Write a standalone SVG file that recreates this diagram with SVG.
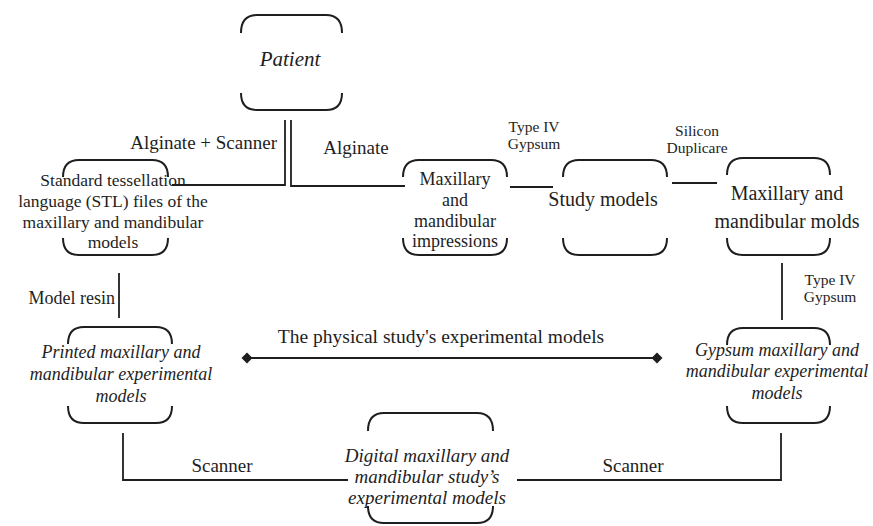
<svg xmlns="http://www.w3.org/2000/svg" width="873" height="526" viewBox="0 0 873 526">
<defs>
<style>
.br{fill:none;stroke:#1e1e1e;stroke-width:2}
.ln{fill:none;stroke:#1e1e1e;stroke-width:1.8}
text{font-family:"Liberation Serif","Times New Roman",serif;fill:#1e1e1e;text-anchor:middle}
.it{font-style:italic}
.lbl{font-size:19px}
.sm{font-size:15.5px}
.nd{font-size:18px}
.big{font-size:20px}
</style>
<marker id="dia" markerWidth="12" markerHeight="12" refX="6" refY="6" orient="auto" markerUnits="userSpaceOnUse"><path d="M0.5,6 L6,0.5 L11.5,6 L6,11.5 Z" fill="#1e1e1e"/></marker>
</defs>
<rect width="873" height="526" fill="#fff"/>

<g id="connectors">
<path class="ln" d="M285,120 V185 H172"/>
<path class="ln" d="M291,120 V186 H405"/>
<path class="ln" d="M510,187 H553"/>
<path class="ln" d="M672,183 H717"/>
<path class="ln" d="M782,263 V320"/>
<path class="ln" d="M119,273 V318"/>
<path class="ln" d="M123,433 V480 H348"/>
<path class="ln" d="M517,480 H781 V433"/>
<path class="ln" d="M247,358 H657" marker-start="url(#dia)" marker-end="url(#dia)"/>
<text class="lbl" x="277" y="149" style="text-anchor:end">Alginate + Scanner</text>
<text class="lbl" x="356" y="154">Alginate</text>
<text class="sm" x="534" y="132">Type IV</text>
<text class="sm" x="534" y="149">Gypsum</text>
<text class="sm" x="697" y="136">Silicon</text>
<text class="sm" x="697" y="153">Duplicare</text>
<text class="sm" x="830" y="285">Type IV</text>
<text class="sm" x="830" y="302">Gypsum</text>
<text class="nd" x="115" y="304" style="text-anchor:end">Model resin</text>
<text class="lbl" x="441" y="343" style="font-size:19.5px">The physical study's experimental models</text>
<text class="lbl" x="222" y="472">Scanner</text>
<text class="lbl" x="633" y="472">Scanner</text>
</g>

<g id="patient">
<path class="br" d="M241,33 Q241,15 257,15 H326 Q342,15 342,33"/>
<path class="br" d="M241,93 Q241,110 257,110 H326 Q342,110 342,93"/>
<text class="it" x="290" y="66" style="font-size:21px">Patient</text>
</g>

<g id="stl">
<path class="br" d="M63,177 Q63,160 79,160 H152 Q168,160 168,177"/>
<path class="br" d="M63,238 Q63,255 79,255 H152 Q168,255 168,238"/>
<text x="113" y="186" style="font-size:17.5px">Standard tessellation</text>
<text x="113" y="207" style="font-size:17.5px">language (STL) files of the</text>
<text x="113" y="228" style="font-size:17.5px">maxillary and mandibular</text>
<text x="113" y="248" style="font-size:17.5px">models</text>
</g>

<g id="impressions">
<path class="br" d="M403,177 Q403,160 419,160 H491 Q507,160 507,177"/>
<path class="br" d="M403,238 Q403,255 419,255 H491 Q507,255 507,238"/>
<text class="nd" x="455" y="185">Maxillary</text>
<text class="nd" x="455" y="206">and</text>
<text class="nd" x="455" y="227">mandibular</text>
<text class="nd" x="455" y="247">impressions</text>
</g>

<g id="study">
<path class="br" d="M563,177 Q563,160 579,160 H651 Q667,160 667,177"/>
<path class="br" d="M563,238 Q563,255 579,255 H651 Q667,255 667,238"/>
<text class="big" x="603" y="206">Study models</text>
</g>

<g id="molds">
<path class="br" d="M727,175 Q727,158 743,158 H814 Q830,158 830,175"/>
<path class="br" d="M727,238 Q727,255 743,255 H814 Q830,255 830,238"/>
<text class="big" x="787" y="200">Maxillary and</text>
<text class="big" x="787" y="228">mandibular molds</text>
</g>

<g id="printed">
<path class="br" d="M68,344 Q68,327 84,327 H156 Q172,327 172,344"/>
<path class="br" d="M68,406 Q68,423 84,423 H156 Q172,423 172,406"/>
<text class="it nd" x="121" y="358">Printed maxillary and</text>
<text class="it nd" x="121" y="380">mandibular experimental</text>
<text class="it nd" x="121" y="402">models</text>
</g>

<g id="gypsum">
<path class="br" d="M727,345 Q727,328 743,328 H814 Q830,328 830,345"/>
<path class="br" d="M727,406 Q727,423 743,423 H814 Q830,423 830,406"/>
<text class="it nd" x="777" y="356">Gypsum maxillary and</text>
<text class="it nd" x="777" y="377">mandibular experimental</text>
<text class="it nd" x="777" y="399">models</text>
</g>

<g id="digital">
<path class="br" d="M368,431 Q368,413 384,413 H477 Q493,413 493,431"/>
<path class="br" d="M368,506 Q368,523 384,523 H477 Q493,523 493,506"/>
<text class="it" x="427" y="462" style="font-size:19px">Digital maxillary and</text>
<text class="it" x="427" y="483" style="font-size:19px">mandibular study’s</text>
<text class="it" x="427" y="504" style="font-size:19px">experimental models</text>
</g>
</svg>
